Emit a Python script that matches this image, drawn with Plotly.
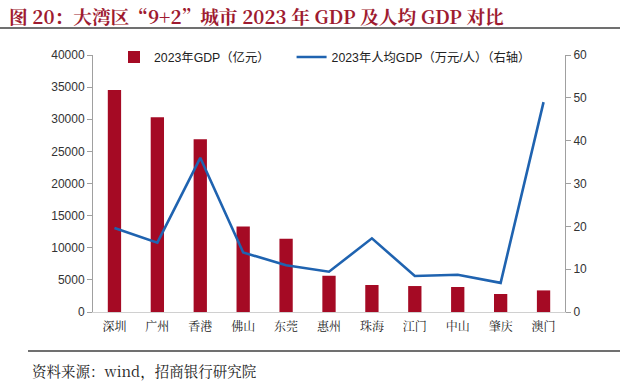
import plotly.graph_objects as go

cities = ["深圳", "广州", "香港", "佛山", "东莞", "惠州", "珠海", "江门", "中山", "肇庆", "澳门"]
gdp = [34560, 30320, 26900, 13300, 11420, 5640, 4200, 4040, 3890, 2800, 3360]
gdp_per_capita = [19.6, 16.2, 36.0, 13.9, 10.9, 9.4, 17.2, 8.4, 8.7, 6.8, 49.0]
left_ticks = [0, 5000, 10000, 15000, 20000, 25000, 30000, 35000, 40000]
right_ticks = [0, 10, 20, 30, 40, 50, 60]

W, H = 630, 385
L, R, T, B = 93, 65, 55, 73
pw, ph = W - L - R, H - T - B

def px(x):
    return (x - L) / pw

def py(y):
    return (H - B - y) / ph

fig = go.Figure()
fig.add_trace(go.Bar(
    x=cities, y=gdp, name="2023年GDP（亿元）" + "\u00a0" * 5,
    marker=dict(color="#a50a24", line=dict(width=0)), width=0.31,
))
fig.add_trace(go.Scatter(
    x=cities, y=gdp_per_capita, name="2023年人均GDP（万元/人）（右轴）",
    mode="lines", line=dict(color="#1f63b0", width=2.6), yaxis="y2",
))

axis_font = dict(family="Liberation Sans, Arial", size=12, color="#333333")
fig.update_layout(
    width=W, height=H,
    margin=dict(l=L, r=R, t=T, b=B, autoexpand=False),
    paper_bgcolor="white", plot_bgcolor="white",
    showlegend=True,
    legend=dict(orientation="h", x=px(114), y=py(57), yanchor="middle", xanchor="left",
                font=dict(family="Liberation Sans, Noto Sans CJK SC", size=12.3, color="#222"),
                bgcolor="rgba(0,0,0,0)", itemwidth=30, tracegroupgap=0),
    bargap=0.69,
    xaxis=dict(
        type="category", showgrid=False, showline=True, linecolor="#d0d0d0", linewidth=1,
        ticks="", tickfont=dict(family="Noto Serif CJK SC, Noto Sans CJK SC", size=12, color="#222"),
        zeroline=False, ticklabelstandoff=4,
    ),
    yaxis=dict(
        range=[0, 40000], tickvals=left_ticks, ticktext=[str(v) for v in left_ticks],
        showgrid=False, showline=True, linecolor="#a0a0a0", linewidth=1,
        ticks="outside", ticklen=5, tickcolor="#a0a0a0", tickfont=axis_font, zeroline=False,
    ),
    yaxis2=dict(
        range=[0, 60], tickvals=right_ticks, overlaying="y", side="right",
        showgrid=False, showline=True, linecolor="#a0a0a0", linewidth=1,
        ticks="outside", ticklen=5, tickcolor="#a0a0a0", tickfont=axis_font, zeroline=False,
    ),
)

# Title
fig.add_annotation(
    text="<b>图 20：大湾区“9+2”城市 2023 年 GDP 及人均 GDP 对比</b>",
    xref="paper", yref="paper", x=px(7), y=py(15), xanchor="left", yanchor="middle",
    showarrow=False, font=dict(family="Noto Serif CJK SC, Noto Sans CJK SC", size=18.7, color="#9e1b30"),
)
fig.add_shape(type="line", xref="paper", yref="paper", x0=px(0), x1=px(620), y0=py(28), y1=py(28),
              line=dict(color="#404040", width=1.5))
fig.add_shape(type="line", xref="paper", yref="paper", x0=px(28), x1=px(620), y0=py(351), y1=py(351),
              line=dict(color="#404040", width=1.5))
fig.add_annotation(
    text="资料来源：wind，招商银行研究院",
    xref="paper", yref="paper", x=px(30), y=py(370), xanchor="left", yanchor="middle",
    showarrow=False, font=dict(family="Noto Serif CJK SC, Noto Sans CJK SC", size=14.5, color="#222"),
)

fig.write_html("out.html", config={"displayModeBar": False},
               post_script="document.body.style.margin='0';document.body.style.overflow='hidden';")
